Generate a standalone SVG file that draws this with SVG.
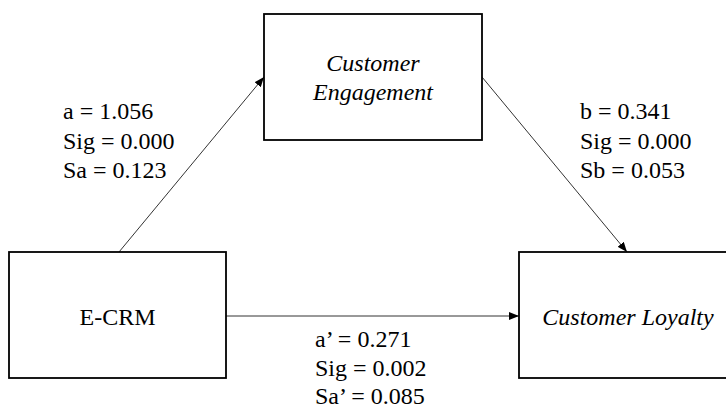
<svg xmlns="http://www.w3.org/2000/svg" width="726" height="408" viewBox="0 0 726 408">
<style>
.box{fill:#fff;stroke:#000;stroke-width:1.8}
.t{font-family:'Liberation Serif','DejaVu Serif',serif;font-size:24px;fill:#000}
.i{font-style:italic}
.c{stroke:#333;stroke-width:1;fill:none}
</style>
<defs>
<marker id="ah" markerWidth="10" markerHeight="8" refX="10" refY="4" orient="auto" markerUnits="userSpaceOnUse">
<path d="M0,0 L10,4 L0,8 Z" fill="#000"/>
</marker>
</defs>
<rect width="726" height="408" fill="#fff"/>
<g id="connectors">
<line class="c" x1="119" y1="252" x2="264" y2="77" marker-end="url(#ah)"/>
<line class="c" x1="482" y1="77" x2="627" y2="252" marker-end="url(#ah)"/>
<line class="c" x1="226" y1="316" x2="519" y2="316" marker-end="url(#ah)"/>
</g>
<g font-family="Liberation Serif, DejaVu Serif, serif" font-size="24">
<g id="customer-engagement">
<rect class="box" x="264" y="14" width="218" height="126"/>
<text class="t i" x="373" y="71" text-anchor="middle">Customer</text>
<text class="t i" x="373" y="100" text-anchor="middle">Engagement</text>
</g>
<g id="e-crm">
<rect class="box" x="9" y="252" width="217" height="126"/>
<text class="t" x="117.5" y="325" text-anchor="middle">E-CRM</text>
</g>
<g id="customer-loyalty">
<rect class="box" x="519" y="252" width="218" height="126"/>
<text class="t i" x="628" y="325" text-anchor="middle">Customer Loyalty</text>
</g>
<g id="labels">
<text class="t" x="63" y="119">a = 1.056</text>
<text class="t" x="63" y="149">Sig = 0.000</text>
<text class="t" x="63" y="178">Sa = 0.123</text>
<text class="t" x="580" y="119">b = 0.341</text>
<text class="t" x="580" y="149">Sig = 0.000</text>
<text class="t" x="580" y="178">Sb = 0.053</text>
<text class="t" x="315" y="347">a’ = 0.271</text>
<text class="t" x="315" y="376">Sig = 0.002</text>
<text class="t" x="315" y="404">Sa’ = 0.085</text>
</g>
</g>
</svg>
